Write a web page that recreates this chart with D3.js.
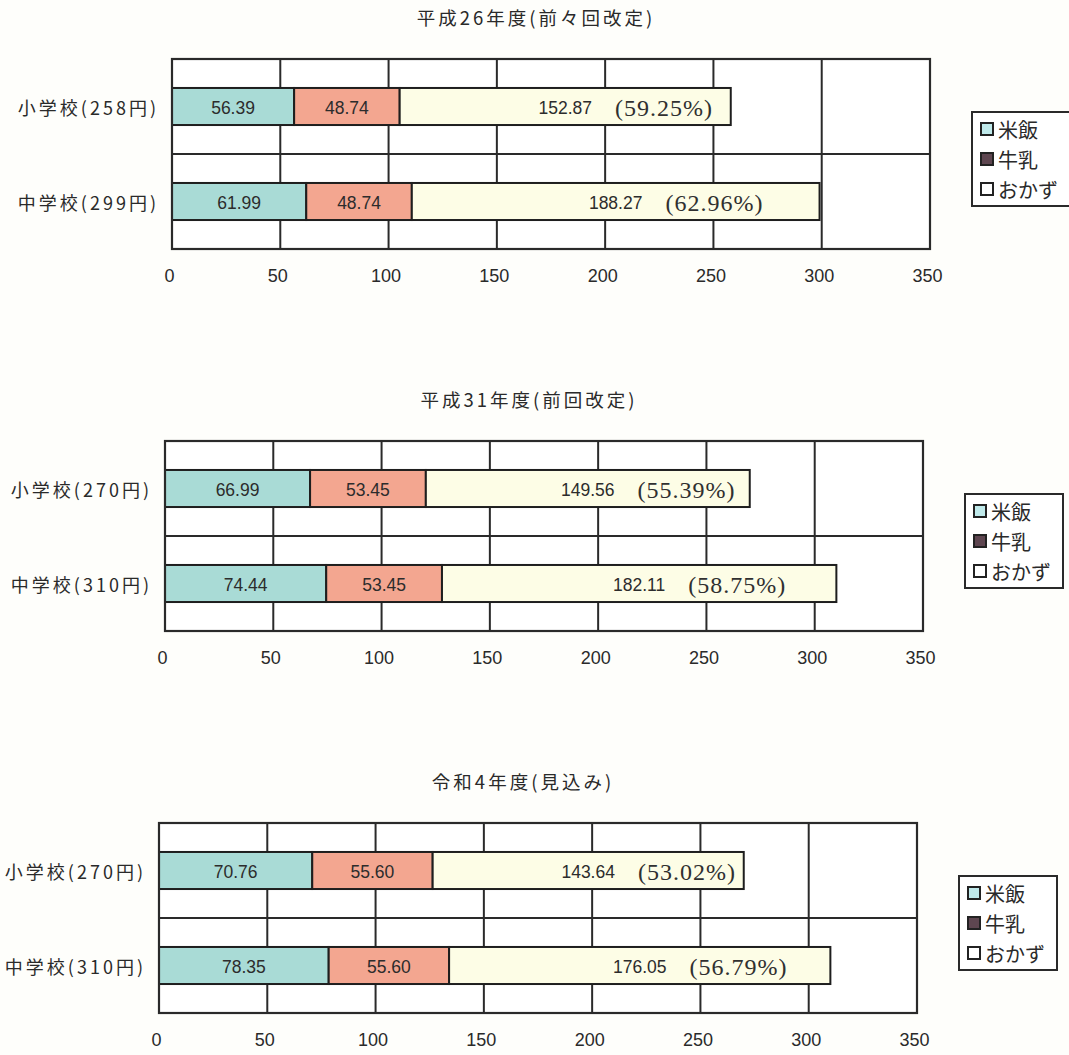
<!DOCTYPE html>
<html><head><meta charset="utf-8">
<script src="https://cdn.jsdelivr.net/npm/d3@7"></script>
<style>
html,body{margin:0;padding:0;background:#fefefb;}
svg{display:block;}
</style></head>
<body>
<svg id="chart" width="1069" height="1055"></svg>
<script>
// ---- data ----
const chartTitles = ["平成26年度(前々回改定)", "平成31年度(前回改定)", "令和4年度(見込み)"];
const schoolLabels = [
  ["小学校(258円)", "中学校(299円)"],
  ["小学校(270円)", "中学校(310円)"],
  ["小学校(270円)", "中学校(310円)"]
];
const riceValues = [[56.39, 61.99], [66.99, 74.44], [70.76, 78.35]];
const milkValues = [[48.74, 48.74], [53.45, 53.45], [55.60, 55.60]];
const sideValues = [[152.87, 188.27], [149.56, 182.11], [143.64, 176.05]];
const sidePercents = [["59.25%", "62.96%"], ["55.39%", "58.75%"], ["53.02%", "56.79%"]];
const seriesNames = ["米飯", "牛乳", "おかず"];
const xTickValues = [0, 50, 100, 150, 200, 250, 300, 350];

// ---- layout / style ----
const plotLefts = [172, 165, 159];
const plotTops = [59, 441, 823];
const plotW = 758, plotH = 190;
const barFills = ["#a9dbd6", "#f3a690", "#fdfde6"];
const legendFills = ["#bfe9ea", "#5e4650", "#ffffff"];
const ink = "#2a2a2a";
const sans = "'Liberation Sans', Arial, sans-serif";
const cjk = "'Noto Sans CJK JP', sans-serif";
const serif = "'Liberation Serif', 'Times New Roman', serif";

const svg = d3.select("#chart");
svg.append("rect").attr("width", 1069).attr("height", 1055).attr("fill", "#fefefb");

chartTitles.forEach((title, ci) => {
  const left = plotLefts[ci], top = plotTops[ci];
  const x = d3.scaleLinear().domain([0, 350]).range([left, left + plotW]);
  const cats = schoolLabels[ci];
  const y = d3.scaleBand().domain(cats).range([top, top + plotH])
    .paddingInner(0.61).paddingOuter(0.305);
  const g = svg.append("g");

  // title
  g.append("text")
    .attr("x", left + plotW / 2 - 15).attr("y", top - 42)
    .attr("text-anchor", "middle").attr("dominant-baseline", "central")
    .attr("font-family", cjk).attr("font-size", 18.5).attr("letter-spacing", 3).attr("fill", ink)
    .text(title);

  // plot area background
  g.append("rect").attr("x", left).attr("y", top).attr("width", plotW).attr("height", plotH)
    .attr("fill", "#ffffff");

  // vertical gridlines
  g.selectAll("line.vg").data(xTickValues.slice(1, -1)).join("line")
    .attr("x1", d => x(d)).attr("x2", d => x(d))
    .attr("y1", top).attr("y2", top + plotH)
    .attr("stroke", ink).attr("stroke-width", 2);

  // horizontal separator between categories
  const sep = top + y.step();
  g.append("line").attr("x1", left).attr("x2", left + plotW)
    .attr("y1", sep).attr("y2", sep)
    .attr("stroke", ink).attr("stroke-width", 2);

  // stacked data
  const rows = cats.map((c, i) => ({cat: c, vals: [riceValues[ci][i], milkValues[ci][i], sideValues[ci][i]], pct: sidePercents[ci][i]}));
  rows.forEach(r => {
    let acc = 0;
    r.segs = r.vals.map((v, k) => { const s = {k, v, x0: acc, x1: acc + v}; acc += v; return s; });
  });

  rows.forEach(r => {
    const by = y(r.cat), bh = y.bandwidth();
    r.segs.forEach(s => {
      g.append("rect")
        .attr("x", x(s.x0)).attr("y", by)
        .attr("width", x(s.x1) - x(s.x0)).attr("height", bh)
        .attr("fill", barFills[s.k]).attr("stroke", "#1e1e1e").attr("stroke-width", 2);
    });
    r.segs.forEach(s => {
      const cx = (x(s.x0) + x(s.x1)) / 2;
      const t = g.append("text")
        .attr("x", cx).attr("y", by + bh / 2 + 1)
        .attr("text-anchor", "middle").attr("dominant-baseline", "central")
        .attr("font-family", sans).attr("font-size", 17.5).attr("fill", "#2c2c2c")
        .text(d3.format(".2f")(s.v));
      if (s.k === 2) {
        const w = t.node().getComputedTextLength();
        g.append("text")
          .attr("x", cx + w / 2 + 23).attr("y", by + bh / 2 + 1)
          .attr("dominant-baseline", "central")
          .attr("font-family", serif).attr("font-size", 24).attr("letter-spacing", 1)
          .attr("fill", "#303030")
          .text("(" + r.pct + ")");
      }
    });
  });

  // plot border
  g.append("rect").attr("x", left).attr("y", top).attr("width", plotW).attr("height", plotH)
    .attr("fill", "none").attr("stroke", ink).attr("stroke-width", 2.2);

  // category labels
  g.selectAll("text.cat").data(cats).join("text")
    .attr("x", left - 13).attr("y", d => y(d) + y.bandwidth() / 2)
    .attr("text-anchor", "end").attr("dominant-baseline", "central")
    .attr("font-family", cjk).attr("font-size", 18).attr("letter-spacing", 3).attr("fill", ink)
    .text(d => d);

  // x axis tick labels
  const axis = d3.axisBottom(x).tickValues(xTickValues).tickSize(0).tickPadding(20);
  const ag = g.append("g").attr("transform", `translate(0,${top + plotH})`).call(axis);
  ag.select(".domain").remove();
  ag.selectAll("text").attr("font-family", sans).attr("font-size", 18).attr("fill", ink)
    .attr("dx", -3);

  // legend
  const lx = left + plotW + 42, ly = top + 53;
  const lg = g.append("g").attr("transform", `translate(${lx},${ly})`);
  lg.append("rect").attr("width", 98).attr("height", 94)
    .attr("fill", "#ffffff").attr("stroke", ink).attr("stroke-width", 2);
  seriesNames.forEach((n, k) => {
    const iy = 17 + k * 30;
    lg.append("rect").attr("x", 9).attr("y", iy - 6).attr("width", 12).attr("height", 12)
      .attr("fill", legendFills[k]).attr("stroke", "#222").attr("stroke-width", 2);
    lg.append("text").attr("x", 26).attr("y", iy).attr("dominant-baseline", "central")
      .attr("font-family", cjk).attr("font-size", 20).attr("fill", ink).text(n);
  });
});
</script>
</body></html>
